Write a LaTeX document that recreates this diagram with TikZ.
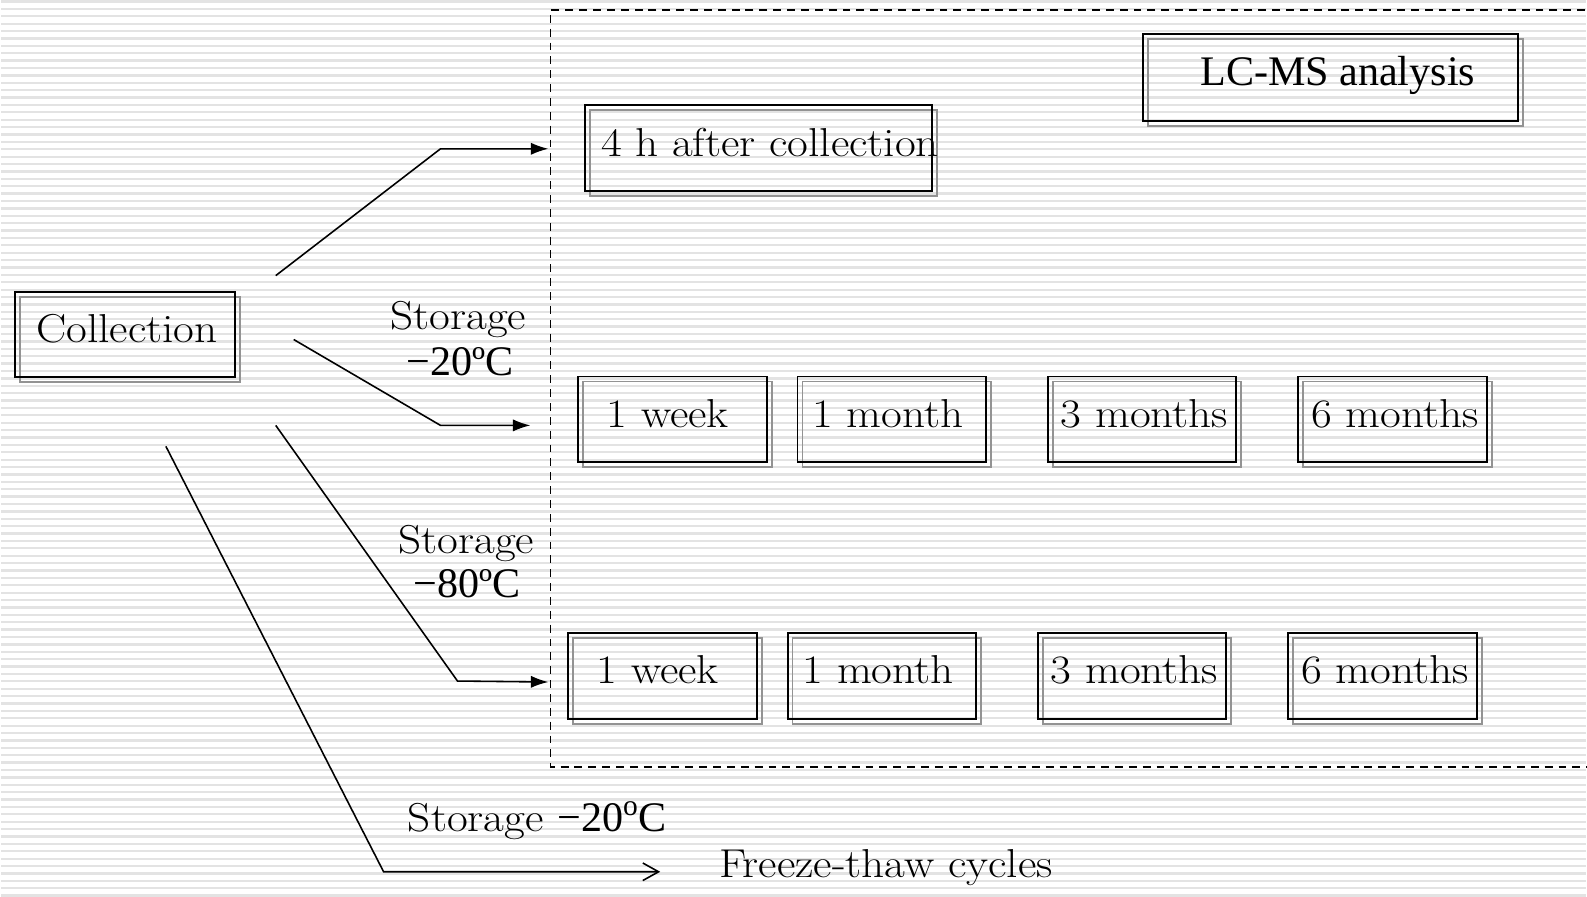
\documentclass[tikz,border=0pt]{standalone}
\usepackage{fontspec}
\setmainfont{Latin Modern Roman}[FakeStretch=1.12]
\newfontfamily\numfont{Liberation Serif}
\usetikzlibrary{arrows.meta}

\tikzset{
  box/.style={draw, line width=1.1pt, inner sep=0pt, minimum height=1.72cm,
    text height=16pt, text depth=7pt,
    preaction={draw=gray!85, line width=1.1pt, transform canvas={shift={(0.1cm,-0.1cm)}}}},
  smallbox/.style={box, minimum width=3.78cm},
  lbl/.style={inner sep=0pt},
  boxtext/.style={lbl, text height=16pt, text depth=7pt},
  conn/.style={line width=0.9pt},
  stripe/.style={draw=gray!22, line width=1.3pt}
}

\begin{document}
\begin{tikzpicture}[x=0.02cm, y=-0.02cm, >={Latex[length=10pt,width=7pt]},
    every node/.style={font=\fontsize{23}{27}\selectfont}]
    % Background
    \fill[white] (0,0) rectangle (1587,898);
    \foreach \k in {0,...,121}
        \draw[stripe] (0,1.5+7.4*\k) -- (1587,1.5+7.4*\k);
    \useasboundingbox (0,0) rectangle (1587,898);

    % Analysis frame
    \draw[line width=0.85pt, dash pattern=on 4.5pt off 3.4pt] (1600,10) -- (550,10) -- (550,768) -- (1600,768);

    % Nodes
    \node[box, minimum width=4.4cm] at (124,335) (coll) {\hspace*{0.08cm}Collection};
    \node[box, minimum width=6.94cm] at (758.5,148.5) (fresh) {};
    \node[boxtext] at (770,148.5) (freshtxt) {4 h after collection};
    \node[box, minimum width=7.52cm, minimum height=1.74cm, font=\numfont\fontsize{24}{28}\selectfont] at (1331,77.5) (lcms) {\hspace*{0.3cm}LC-MS analysis};

    \node[smallbox] at (672.5,420) (wk20) {\hspace*{-0.2cm}1 week};
    \node[smallbox] at (892,420) (mo20) {\hspace*{-0.15cm}1 month};
    \node[smallbox] at (1142.5,420) (three20) {\hspace*{0.1cm}3 months};
    \node[smallbox] at (1393.5,420) (six20) {\hspace*{0.1cm}6 months};

    \node[smallbox] at (662.5,677) (wk80) {\hspace*{-0.2cm}1 week};
    \node[smallbox] at (882,677) (mo80) {\hspace*{-0.15cm}1 month};
    \node[smallbox] at (1132.5,677) (three80) {\hspace*{0.1cm}3 months};
    \node[smallbox] at (1383.5,677) (six80) {\hspace*{0.1cm}6 months};

    % Labels
    \node[lbl] at (458,320) (st20) {Storage};
    \node[lbl, font=\numfont\fontsize{24}{28}\selectfont] at (460,362) (t20) {−20ºC};
    \node[lbl] at (466,544) (st80) {Storage};
    \node[lbl, font=\numfont\fontsize{24}{28}\selectfont] at (467,585) (t80) {−80ºC};
    \node[lbl] at (537,822) (stft) {Storage {\numfont\fontsize{24}{28}\selectfont −20\textsuperscript{o}C}};
    \node[lbl] at (886,869) (ft) {Freeze-thaw cycles};

    % Connector points
    \coordinate (a1) at (275,276);
    \coordinate (b1) at (440,149);
    \coordinate (c1) at (548,149);
    \coordinate (a2) at (293,340);
    \coordinate (b2) at (440,426);
    \coordinate (c2) at (530,426);
    \coordinate (a3) at (275,426);
    \coordinate (b3) at (457,682);
    \coordinate (c3) at (548,683);
    \coordinate (a4) at (165,447);
    \coordinate (b4) at (383,873);
    \coordinate (c4) at (660,873);

    % Edges
    \draw[conn, ->] (a1) -- (b1) -- (c1);
    \draw[conn, ->] (a2) -- (b2) -- (c2);
    \draw[conn, ->] (a3) -- (b3) -- (c3);
    \draw[conn, -{Straight Barb[length=9pt,width=10pt]}] (a4) -- (b4) -- (c4);
\end{tikzpicture}
\end{document}
